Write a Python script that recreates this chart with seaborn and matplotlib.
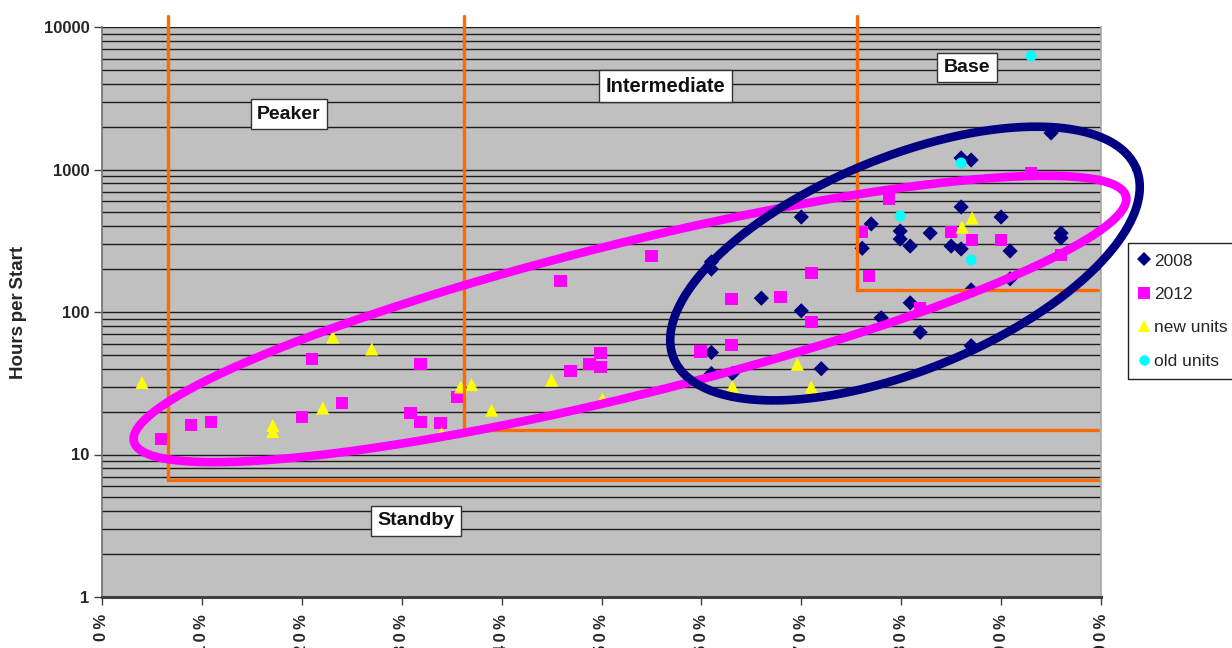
import numpy as np
import pandas as pd
import matplotlib
matplotlib.use("Agg")
import matplotlib.pyplot as plt
import seaborn as sns
from matplotlib.lines import Line2D
from matplotlib.ticker import FixedLocator, FixedFormatter, LogLocator, NullFormatter

# Capacity factor (%) and hours per start, by unit group
x_2008 = [61.0, 61.0, 61.0, 61.0, 63.1, 66.0, 70.0, 70.0, 72.0, 76.1, 77.0, 78.0,
          79.9, 79.9, 80.9, 80.9, 81.9, 82.9, 85.0, 86.0, 86.0, 86.0, 87.0, 87.0,
          87.0, 90.0, 90.9, 90.9, 95.0, 96.0, 96.0]
y_2008 = [225, 200, 52, 37, 37, 125, 464, 102, 40, 280, 415, 91,
          370, 325, 290, 116, 72, 358, 290, 1205, 546, 277, 1166, 143,
          58, 464, 268, 171, 1804, 358, 331]

x_2012 = [5.9, 8.9, 10.9, 20.0, 21.0, 24.0, 30.9, 31.9, 31.9, 33.9, 35.6, 45.9,
          46.9, 48.8, 49.9, 49.9, 55.0, 59.9, 63.0, 63.0, 67.9, 71.0, 71.0, 76.1,
          76.8, 78.8, 81.9, 85.0, 87.1, 90.0, 93.0, 96.0]
y_2012 = [12.8, 16.1, 16.9, 18.3, 46.8, 23.0, 19.6, 43.2, 16.9, 16.6, 25.3, 165,
          38.5, 43.2, 51.6, 41.1, 247, 53, 123, 58.7, 127, 188, 85, 364,
          179, 621, 107, 364, 320, 320, 945, 251]

x_new = [4.0, 17.1, 17.1, 22.1, 23.1, 27.0, 34.0, 35.9, 37.0, 39.0, 45.0, 50.1,
         63.1, 69.6, 71.0, 86.1, 87.1]
y_new = [32, 16, 14.5, 21.2, 66.8, 55, 14, 29.8, 31, 20.5, 33.3, 24.5,
         30, 43, 29.8, 395, 457]

x_old = [79.9, 86.0, 87.0, 93.0]
y_old = [472, 1111, 232, 6256]

groups = ["2008", "2012", "new units", "old units"]

# Duty-class boundaries: capacity factor where each class starts and its minimum hours per start
class_x = [6.6, 36.2, 75.6]
class_floor = [6.6, 14.9, 143]
boundary_top = 11850
boundary_right = 99.7

region_names = ["Peaker", "Intermediate", "Base", "Standby"]
region_x = [18.7, 56.4, 86.6, 31.4]
region_y = [2450, 3850, 5200, 3.42]

x_ticks = list(range(0, 101, 10))
x_tick_labels = [f"{v}%" for v in x_ticks]
y_ticks = [1, 10, 100, 1000, 10000]
y_tick_labels = ["1", "10", "100", "1000", "10000"]

# Cluster outlines in (capacity factor, log10 hours) space: centre and two semi-diameters
cluster_2012 = dict(c=(52.85, 1.951), u=(49.65, 0.861), v=(-1.83, 0.518))
cluster_2008 = dict(c=(80.38, 2.340), u=(23.15, 0.666), v=(-4.05, 0.692))

colors = {"2008": "#000080", "2012": "#FF00FF", "new units": "#FFFF00", "old units": "#00FFFF"}
markers = {"2008": "D", "2012": "s", "new units": "^", "old units": "o"}
sizes = {"2008": 60, "2012": 80, "new units": 90, "old units": 62}

df = pd.concat([
    pd.DataFrame({"cf": x_2008, "hps": y_2008, "group": "2008"}),
    pd.DataFrame({"cf": x_2012, "hps": y_2012, "group": "2012"}),
    pd.DataFrame({"cf": x_new, "hps": y_new, "group": "new units"}),
    pd.DataFrame({"cf": x_old, "hps": y_old, "group": "old units"}),
], ignore_index=True)

sns.set_style("white", rc={"axes.facecolor": "#C0C0C0"})
plt.rcParams["font.family"] = ["Liberation Sans", "DejaVu Sans"]

fig = plt.figure(figsize=(12.32, 6.48), dpi=100)
ax = fig.add_axes([102 / 1232, 51 / 648, 999 / 1232, 570 / 648])
ax.set_facecolor("#C0C0C0")
ax.set_yscale("log")

sns.scatterplot(data=df, x="cf", y="hps", hue="group", style="group", size="group",
                palette=colors, markers=markers, sizes=sizes, hue_order=groups,
                style_order=groups, size_order=groups, linewidth=0, legend=False,
                ax=ax, zorder=3)

ax.set_xlim(0, 100)
ax.set_ylim(1, 10000)

# horizontal gridlines at every log step
ax.yaxis.set_minor_locator(LogLocator(base=10, subs=range(2, 10)))
ax.yaxis.set_minor_formatter(NullFormatter())
ax.yaxis.set_major_locator(FixedLocator(y_ticks))
ax.yaxis.set_major_formatter(FixedFormatter(y_tick_labels))
ax.grid(which="both", axis="y", color="#1c1c1c", lw=1.0)
ax.grid(False, axis="x")
ax.set_axisbelow(True)

# spaced-out percentage labels along the bottom
spaced = ["\u2009".join(s) for s in x_tick_labels]
ax.xaxis.set_major_locator(FixedLocator(x_ticks))
ax.xaxis.set_major_formatter(FixedFormatter(spaced))
ax.tick_params(axis="x", which="major", direction="out", length=6, width=1,
               color="#404040", labelsize=12, rotation=90, pad=6)
ax.tick_params(axis="y", which="major", direction="out", length=6, width=1,
               color="#404040", labelsize=12, pad=3)
ax.tick_params(axis="y", which="minor", length=0)
ax.tick_params(left=True, bottom=True)
for lab in ax.get_xticklabels() + ax.get_yticklabels():
    lab.set_fontweight("bold")
for lab in ax.get_xticklabels():
    lab.set_verticalalignment("top")

ax.set_xlabel("")
ax.set_ylabel("Hours\u2009per\u2009Start", fontsize=13.5, fontweight="bold", labelpad=12)

ax.spines["top"].set_visible(False)
ax.spines["left"].set_color("#707070")
ax.spines["left"].set_linewidth(1.2)
ax.spines["bottom"].set_color("#404040")
ax.spines["bottom"].set_linewidth(2.2)
ax.spines["right"].set_color("#A8A8A8")
ax.spines["right"].set_linewidth(1.2)

# duty-class boundaries
orange = "#FF6A00"
for cx, fy in zip(class_x, class_floor):
    ax.plot([cx, cx, boundary_right], [boundary_top, fy, fy], color=orange, lw=2.4,
            solid_joinstyle="miter", clip_on=False, zorder=4)

# cluster outlines
t = np.linspace(0, 2 * np.pi, 400)
for cl, col in [(cluster_2012, "#FF00FF"), (cluster_2008, "#000080")]:
    cx = cl["c"][0] + cl["u"][0] * np.cos(t) + cl["v"][0] * np.sin(t)
    cy = cl["c"][1] + cl["u"][1] * np.cos(t) + cl["v"][1] * np.sin(t)
    ax.plot(cx, 10 ** cy, color=col, lw=6.2, clip_on=False, zorder=5,
            solid_capstyle="round")

# class labels
for name, rx, ry in zip(region_names, region_x, region_y):
    fs = 14.5 if name == "Intermediate" else 14
    ax.text(rx, ry, name, ha="center", va="center", fontsize=fs, fontweight="bold",
            color="#111111", zorder=6,
            bbox=dict(boxstyle="square,pad=0.33", fc="white", ec="#333333", lw=1.0))

handles = [Line2D([], [], ls="none", marker=markers[g], color=colors[g],
                  markersize=np.sqrt(sizes[g]) * 0.95, markeredgewidth=0) for g in groups]
leg = fig.legend(handles, groups, loc="upper left", bbox_to_anchor=(1128 / 1232, 1 - 243 / 648),
                 frameon=True, fancybox=False, fontsize=12.5, handlelength=0.6,
                 handletextpad=0.3, labelspacing=1.05, borderpad=0.6, borderaxespad=0,
                 facecolor="white", framealpha=1.0)
leg.get_frame().set_edgecolor("#222222")
leg.get_frame().set_linewidth(1.0)

fig.savefig("out.png", dpi=100, facecolor="white")
